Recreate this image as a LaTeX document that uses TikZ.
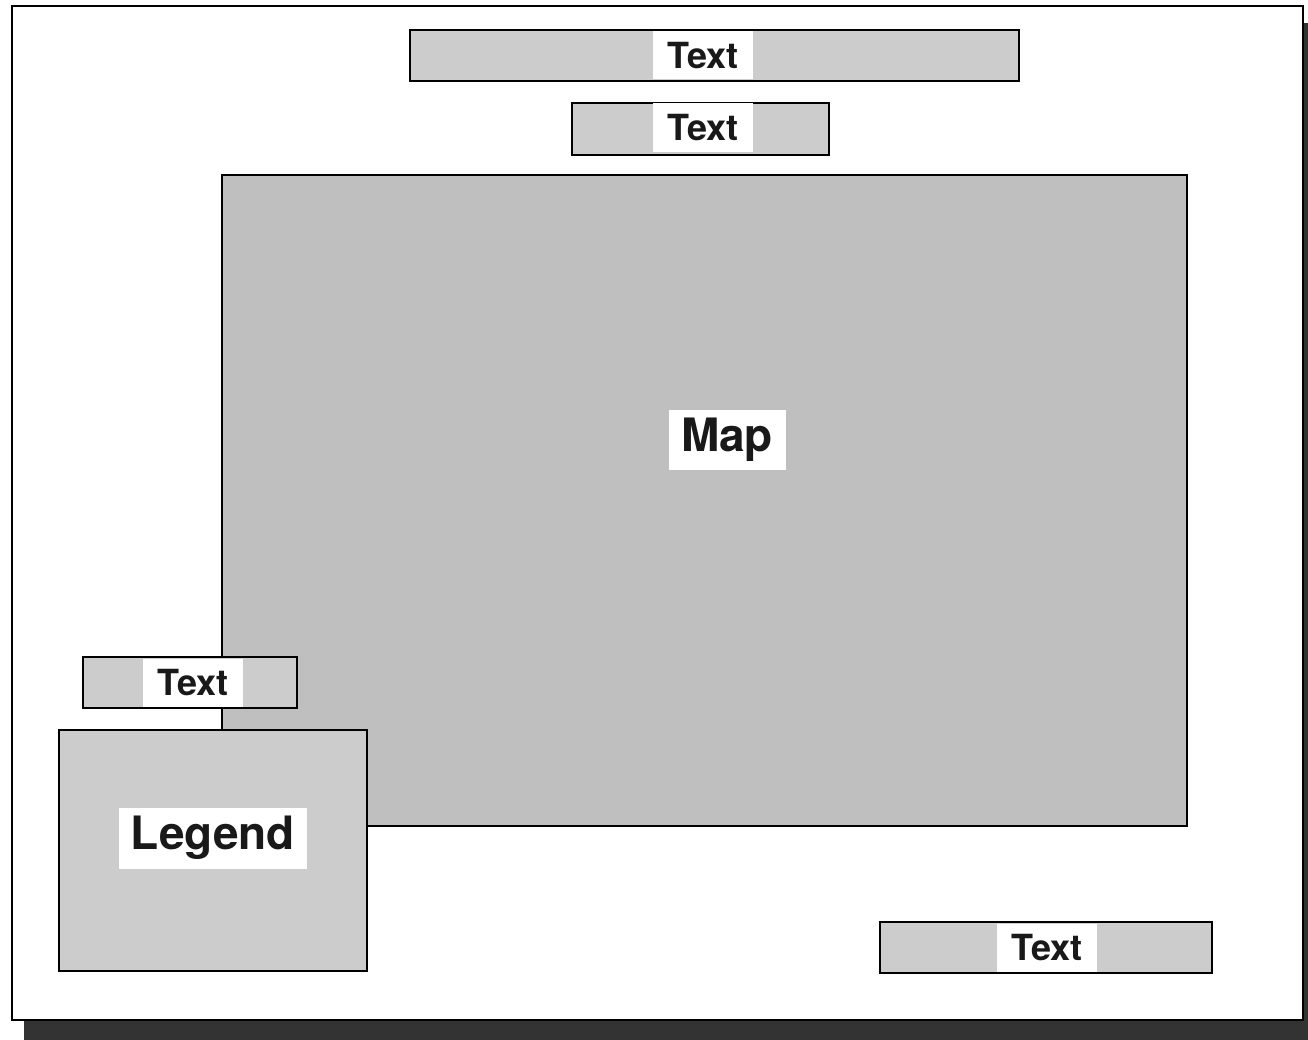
\documentclass[tikz,border=0pt]{standalone}
\usepackage{fontspec}
\setmainfont{TeX Gyre Heros}
\begin{document}
\begin{tikzpicture}[x=1pt,y=-1pt,
  boxst/.style={draw=black, line width=2.6pt, fill=black!20},
  mapst/.style={draw=black, line width=2.6pt, fill=black!25},
  lbl/.style={fill=white, inner sep=0pt, font=\bfseries\fontsize{36}{40}\selectfont, text=black!90},
  biglbl/.style={fill=white, inner sep=0pt, font=\bfseries\fontsize{46}{50}\selectfont, text=black!90}]
\useasboundingbox (0,0) rectangle (1308,1040);
% shadow
\fill[black!80] (1303,23) rectangle (1308,1040);
\fill[black!80] (24,1021) rectangle (1308,1040);
% outer frame
\draw[line width=2.4pt, fill=white] (12,6) rectangle (1303,1020);
% top text boxes
\draw[boxst] (410,30) rectangle (1019,81);
\node[lbl, minimum width=100pt, minimum height=48pt] (t1) at (703,55.5) {Text};
\draw[boxst] (572,103) rectangle (829,155);
\node[lbl, minimum width=100pt, minimum height=49pt] (t2) at (703,128) {Text};
% map
\draw[mapst] (222,175) rectangle (1187,826);
\node[biglbl, minimum width=117pt, minimum height=60pt] (map) at (727,440) {Map};
% left text
\draw[boxst] (83,657) rectangle (297,708);
\node[lbl, minimum width=100pt, minimum height=48pt] (t3) at (193,682.5) {Text};
% legend
\draw[boxst] (59,730) rectangle (367,971);
\node[biglbl, minimum width=188pt, minimum height=61pt] (legend) at (213,838) {Legend};
% bottom right text
\draw[boxst] (880,922) rectangle (1212,973);
\node[lbl, minimum width=100pt, minimum height=48pt] (t4) at (1047,947.5) {Text};
\end{tikzpicture}
\end{document}
